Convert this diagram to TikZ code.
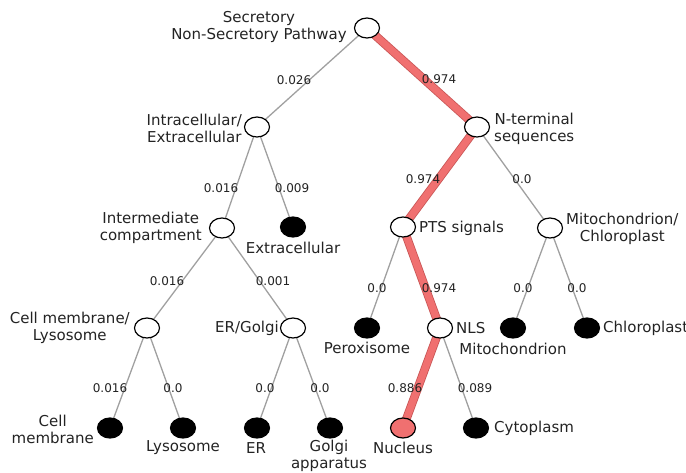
\documentclass[tikz,border=0pt]{standalone}
\usepackage{fontspec}
\setmainfont{DejaVu Sans}
\usetikzlibrary{shapes.geometric,backgrounds}
\definecolor{hl}{RGB}{240,112,112}
\definecolor{hlb}{RGB}{200,85,85}
\definecolor{edgegray}{RGB}{160,160,160}
\definecolor{txt}{RGB}{35,35,35}
\begin{document}
\begin{tikzpicture}[x=1pt,y=-1pt,
  inode/.style={ellipse,draw=black,line width=1.2pt,fill=white,minimum width=25pt,minimum height=20pt,inner sep=0pt},
  leaf/.style={inode,fill=black},
  nuc/.style={inode,fill=hl},
  lbl/.style={font=\fontsize{15}{17}\selectfont,text=txt,inner sep=0pt,align=center},
  elbl/.style={font=\fontsize{12}{14}\selectfont,text=txt,inner sep=0pt},
  gedge/.style={draw=edgegray,line width=1.3pt},
  redge/.style={draw=hlb,line width=0.8pt,double=hl,double distance=7pt}]
\useasboundingbox (0,0) rectangle (686,472);
% tree nodes
\node[inode] (root) at (367,28) {};
\node[inode] (ie) at (257,127) {};
\node[inode] (nt) at (477,127) {};
\node[inode] (im) at (222,228) {};
\node[leaf] (ex) at (293,227) {};
\node[inode] (pts) at (403,227) {};
\node[inode] (mc) at (550,228) {};
\node[inode] (cml) at (147,328) {};
\node[inode] (erg) at (293,328) {};
\node[leaf] (per) at (367,328) {};
\node[inode] (nls) at (440,328) {};
\node[leaf] (mit) at (513,328) {};
\node[leaf] (chl) at (587,328) {};
\node[leaf] (cm) at (110,428) {};
\node[leaf] (ly) at (183,428) {};
\node[leaf] (er) at (257,428) {};
\node[leaf] (go) at (330,428) {};
\node[nuc] (nu) at (403,428) {};
\node[leaf] (cy) at (476,428) {};
% connectors
\begin{scope}[on background layer]
\draw[gedge] (root.center) -- (ie.center);
\draw[gedge] (ie.center) -- (im.center);
\draw[gedge] (ie.center) -- (ex.center);
\draw[gedge] (nt.center) -- (mc.center);
\draw[gedge] (im.center) -- (cml.center);
\draw[gedge] (im.center) -- (erg.center);
\draw[gedge] (pts.center) -- (per.center);
\draw[gedge] (mc.center) -- (mit.center);
\draw[gedge] (mc.center) -- (chl.center);
\draw[gedge] (cml.center) -- (cm.center);
\draw[gedge] (cml.center) -- (ly.center);
\draw[gedge] (erg.center) -- (er.center);
\draw[gedge] (erg.center) -- (go.center);
\draw[gedge] (nls.center) -- (cy.center);
\draw[redge] (root.center) -- (nt.center) -- (pts.center) -- (nls.center) -- (nu.center);
\end{scope}
% node labels
\node[lbl,anchor=east] (root-l) at (347,27) {Secretory\\Non-Secretory Pathway};
\node[lbl,anchor=east] (ie-l) at (242,128) {Intracellular/\\Extracellular};
\node[lbl,anchor=west] (nt-l) at (494,129) {N-terminal\\sequences};
\node[lbl,anchor=east] (im-l) at (202,228) {Intermediate\\compartment};
\node[lbl] (ex-l) at (293,248) {Extracellular};
\node[lbl,anchor=west] (pts-l) at (419,228) {PTS signals};
\node[lbl,anchor=west] (mc-l) at (566,229) {Mitochondrion/\\Chloroplast};
\node[lbl,anchor=east] (cml-l) at (130,328) {Cell membrane/\\Lysosome};
\node[lbl,anchor=east] (erg-l) at (279,328) {ER/Golgi};
\node[lbl] (per-l) at (367,348) {Peroxisome};
\node[lbl,anchor=west] (nls-l) at (456,328) {NLS};
\node[lbl] (mit-l) at (513,349) {Mitochondrion};
\node[lbl,anchor=west] (chl-l) at (603,328) {Chloroplast};
\node[lbl,anchor=east] (cm-l) at (94,429) {Cell\\membrane};
\node[lbl] (ly-l) at (183,448) {Lysosome};
\node[lbl] (er-l) at (256,448) {ER};
\node[lbl] (go-l) at (329,456) {Golgi\\apparatus};
\node[lbl] (nu-l) at (403,448) {Nucleus};
\node[lbl,anchor=west] (cy-l) at (494,428) {Cytoplasm};
% edge labels
\node[elbl] (e1) at (294,80) {0.026};
\node[elbl] (e2) at (439,79) {0.974};
\node[elbl] (e3) at (221,188) {0.016};
\node[elbl] (e4) at (292,188) {0.009};
\node[elbl] (e5) at (423,179) {0.974};
\node[elbl] (e6) at (522,179) {0.0};
\node[elbl] (e7) at (167,281) {0.016};
\node[elbl] (e8) at (273,281) {0.001};
\node[elbl] (e9) at (377,288) {0.0};
\node[elbl] (e10) at (439,288) {0.974};
\node[elbl] (e11) at (523,288) {0.0};
\node[elbl] (e12) at (577,288) {0.0};
\node[elbl] (e13) at (110,388) {0.016};
\node[elbl] (e14) at (173,388) {0.0};
\node[elbl] (e15) at (265,388) {0.0};
\node[elbl] (e16) at (320,388) {0.0};
\node[elbl] (e17) at (405,388) {0.886};
\node[elbl] (e18) at (475,388) {0.089};
\end{tikzpicture}
\end{document}
